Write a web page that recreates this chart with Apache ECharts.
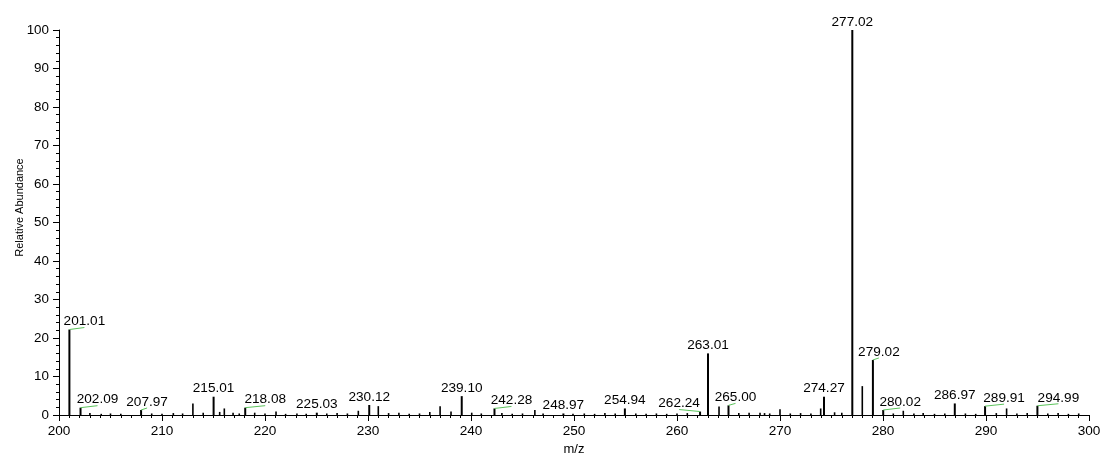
<!DOCTYPE html>
<html>
<head>
<meta charset="utf-8">
<script src="https://cdn.jsdelivr.net/npm/echarts@6/dist/echarts.min.js"></script>
<style>
  html, body { margin: 0; padding: 0; background: #fff; }
  #chart { width: 1104px; height: 457px; }
</style>
</head>
<body>
<div id="chart"></div>
<script>
// Annotated centroid peaks (m/z, relative abundance %)
const labeledMz = [201.01, 202.09, 207.97, 215.01, 218.08, 225.03, 230.12, 239.10, 242.28, 248.97,
                   254.94, 262.24, 263.01, 265.00, 274.27, 277.02, 279.02, 280.02, 286.97, 289.91, 294.99];
const labeledAbundance = [22.2, 1.9, 1.3, 4.75, 1.9, 0.6, 2.6, 4.9, 1.7, 0.4,
                          1.7, 0.9, 16.0, 2.5, 4.75, 100, 14.3, 1.3, 3.0, 2.3, 2.4];

// Remaining centroid peaks without annotation
const otherMz = [203.0, 204.1, 205.0, 206.0, 209.0, 210.0, 211.1, 212.0, 213.0, 214.0,
                 215.6, 216.05, 216.9, 217.5, 219.0, 220.0, 221.07, 222.0, 223.1, 224.0,
                 226.0, 227.0, 228.0, 229.06, 231.0, 232.0, 233.0, 234.0, 235.0, 236.0,
                 237.0, 238.06, 240.07, 241.0, 243.0, 244.0, 245.0, 246.2, 247.0, 249.9,
                 251.0, 252.0, 253.0, 254.0, 256.0, 257.0, 258.0, 259.0, 260.0, 261.0,
                 264.08, 266.0, 267.0, 268.06, 268.5, 269.0, 270.0, 271.0, 272.0, 273.0,
                 273.95, 275.3, 276.0, 277.99, 281.0, 281.97, 283.0, 283.9, 285.0, 286.0,
                 288.0, 289.0, 291.0, 292.0, 293.0, 294.0, 296.0, 297.0, 298.0, 299.0];
const otherAbundance = [0.5, 0.3, 0.4, 0.3, 0.4, 0.3, 0.5, 0.4, 3.0, 0.6,
                        0.8, 1.7, 0.6, 0.4, 0.6, 0.4, 0.9, 0.3, 0.4, 0.3,
                        0.4, 0.5, 0.4, 1.1, 2.3, 0.5, 0.6, 0.3, 0.4, 0.8,
                        2.3, 0.9, 0.6, 0.4, 0.5, 0.3, 0.4, 1.3, 0.4, 0.3,
                        0.4, 0.3, 0.5, 0.4, 0.4, 0.3, 0.4, 0.3, 0.4, 0.5,
                        2.2, 0.5, 0.6, 0.6, 0.5, 0.4, 1.5, 0.4, 0.5, 0.4,
                        1.7, 0.7, 0.6, 7.5, 0.4, 1.1, 0.4, 0.5, 0.3, 0.4,
                        0.4, 0.3, 0.5, 1.7, 0.4, 0.5, 0.4, 0.5, 0.3, 0.4];

// Axis ticks
const xTicks = { min: 200, max: 300, step: 10 };
const yTicks = { min: 0, max: 100, step: 10 };

// Horizontal displacement (px) of a peak label; displaced labels get a green leader line
const labelShift = [15, 17, 6, 0, 20, 0, 0, 0, 17, 0,
                    0, -21, 0, 7, 0, 0, 6, 17, 0, 19, 21];

const FONT = '"Liberation Sans", Arial, sans-serif';

const peakData = labeledMz.map((m, i) => [m, labeledAbundance[i], 2])
  .concat(otherMz.map((m, i) => [m, otherAbundance[i], 1.6]));
const labelData = labeledMz.map((m, i) => [m, labeledAbundance[i], labelShift[i]]);

function renderStick(params, api) {
  const base = api.coord([api.value(0), 0]);
  const top = api.coord([api.value(0), api.value(1)]);
  return {
    type: 'line',
    shape: { x1: base[0], y1: base[1], x2: top[0], y2: top[1] },
    style: { stroke: '#000', lineWidth: api.value(2) }
  };
}

function renderLabel(params, api) {
  const m = api.value(0);
  const top = api.coord([m, api.value(1)]);
  const shift = api.value(2);
  const cx = top[0] + shift;
  const children = [];
  if (shift !== 0) {
    children.push({
      type: 'line',
      shape: { x1: top[0], y1: top[1], x2: cx, y2: top[1] - 2 },
      style: { stroke: '#5cc45c', lineWidth: 1 }
    });
  }
  children.push({
    type: 'text',
    x: cx,
    y: top[1] - 1,
    style: {
      text: m.toFixed(2),
      font: '13.6px ' + FONT,
      fill: '#000',
      align: 'center',
      verticalAlign: 'bottom'
    }
  });
  return { type: 'group', children: children };
}

const chart = echarts.init(document.getElementById('chart'), null, { renderer: 'canvas' });
chart.setOption({
  animation: false,
  backgroundColor: '#fff',
  grid: { left: 59, right: 15, top: 30, bottom: 42, containLabel: false, outerBoundsMode: 'none' },
  xAxis: {
    type: 'value',
    min: xTicks.min, max: xTicks.max, interval: xTicks.step,
    name: 'm/z',
    nameLocation: 'middle',
    nameGap: 27,
    nameTextStyle: { fontFamily: FONT, fontSize: 13, color: '#000' },
    axisLine: { show: true, lineStyle: { color: '#000', width: 1 } },
    axisTick: { show: true, length: 6, lineStyle: { color: '#000' } },
    minorTick: { show: true, splitNumber: 10, length: 3, lineStyle: { color: '#000' } },
    splitLine: { show: false },
    axisLabel: { fontFamily: FONT, fontSize: 13.6, color: '#000', margin: 9 }
  },
  yAxis: {
    type: 'value',
    min: yTicks.min, max: yTicks.max, interval: yTicks.step,
    name: 'Relative Abundance',
    nameLocation: 'middle',
    nameRotate: 90,
    nameGap: 34,
    nameMoveOverlap: false,
    nameTextStyle: { fontFamily: FONT, fontSize: 11, color: '#000', padding: [0, 0, 0, 30] },
    axisLine: { show: true, lineStyle: { color: '#000', width: 1 } },
    axisTick: { show: true, length: 6, lineStyle: { color: '#000' } },
    minorTick: { show: true, splitNumber: 5, length: 3, lineStyle: { color: '#000' } },
    splitLine: { show: false },
    axisLabel: { fontFamily: FONT, fontSize: 13.4, color: '#000', margin: 10 }
  },
  series: [
    {
      type: 'custom',
      name: 'peaks',
      renderItem: renderStick,
      data: peakData,
      encode: { x: 0, y: 1 },
      silent: true,
      clip: true
    },
    {
      type: 'custom',
      name: 'labels',
      renderItem: renderLabel,
      data: labelData,
      encode: { x: 0, y: 1 },
      silent: true,
      clip: false,
      z: 3
    }
  ]
});
</script>
</body>
</html>
